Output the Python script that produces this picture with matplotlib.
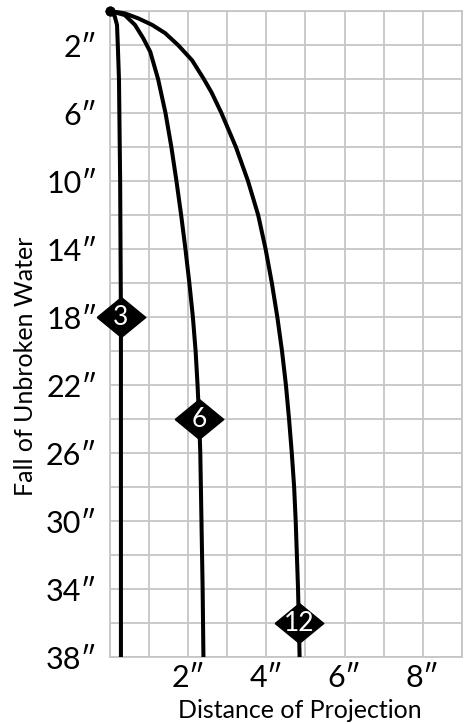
import matplotlib
matplotlib.use('Agg')
import matplotlib.pyplot as plt

# --- Data ---
# fall of unbroken water (inches) and distance of projection (inches) per nozzle
fall_3 = [0, 0.3, 0.82, 2, 4, 6, 10, 14, 18, 24, 30, 38]
dist_3 = [0, 0.12, 0.18, 0.2, 0.23, 0.24, 0.26, 0.27, 0.28, 0.28, 0.28, 0.28]

fall_6 = [0, 0.24, 0.82, 1.6, 2, 2.4, 3.6, 4, 6, 8, 10, 12, 14, 16, 18, 20, 22,
          24, 26, 30, 34, 38]
dist_6 = [0, 0.38, 0.64, 0.85, 0.94, 1.03, 1.18, 1.23, 1.42, 1.57, 1.70, 1.82,
          1.93, 2.03, 2.12, 2.19, 2.24, 2.28, 2.31, 2.34, 2.37, 2.39]

fall_12 = [0, 0.14, 0.43, 0.82, 1.3, 2, 2.9, 4, 4.8, 6, 8, 10, 12, 14, 16, 18,
           20, 22, 24, 26, 28, 30, 34, 36, 38]
dist_12 = [0, 0.38, 0.72, 1.08, 1.41, 1.74, 2.1, 2.40, 2.60, 2.85, 3.22, 3.53,
           3.79, 3.98, 4.14, 4.28, 4.40, 4.50, 4.58, 4.65, 4.71, 4.75, 4.81,
           4.83, 4.85]

# label positions on each curve
label_names = ['3', '6', '12']
label_dist = [0.28, 2.28, 4.83]
label_fall = [18, 24, 36]

x_ticks = [2, 4, 6, 8]
y_ticks = [2, 6, 10, 14, 18, 22, 26, 30, 34, 38]

FONT = ['Lato', 'DejaVu Sans']
GRID = '#c6c6c6'

fig = plt.figure(figsize=(4.67, 7.24), dpi=100)
ax = fig.add_axes([0.2355, 0.0925, 0.7535, 0.8923])

ax.set_xlim(0, 9)
ax.set_ylim(38, 0)

# grid every inch across, every 2 inches down
ax.set_xticks(range(0, 10), minor=True)
ax.set_yticks(range(0, 39, 2), minor=True)
ax.set_xticks(x_ticks)
ax.set_xticklabels([f'{v}\u2033' for v in x_ticks], fontsize=22, family=FONT)
ax.set_yticks(y_ticks)
ax.set_yticklabels([f'{v}\u2033' for v in y_ticks], fontsize=22, family=FONT)
ax.grid(True, which='both', color=GRID, linewidth=1.3)
ax.set_axisbelow(True)
for s in ax.spines.values():
    s.set_color(GRID)
    s.set_linewidth(1.3)

ax.tick_params(which='both', length=0)
ax.tick_params(axis='y', pad=9)
ax.tick_params(axis='x', pad=5)

for d, f in [(dist_3, fall_3), (dist_6, fall_6), (dist_12, fall_12)]:
    ax.plot(d, f, color='black', linewidth=2.9, solid_capstyle='butt',
            solid_joinstyle='round', clip_on=False,
            marker='o', markersize=6, markevery=[0], zorder=3)

diamond = [(-1, 0), (0, 0.82), (1, 0), (0, -0.82), (-1, 0)]
for name, d, f in zip(label_names, label_dist, label_fall):
    ax.plot([d], [f], marker=diamond, markersize=35, color='black',
            clip_on=False, zorder=4)
    ax.text(d, f, name, color='white', fontsize=19, family=FONT,
            ha='center', va='center', zorder=5)

ax.set_xlabel('Distance of Projection', fontsize=18, family=FONT, va='center')
ax.xaxis.set_label_coords(0.54, -0.083)
ax.set_ylabel('Fall of Unbroken Water', fontsize=18, family=FONT, va='center')
ax.yaxis.set_label_coords(-0.241, 0.45)

fig.savefig('out.png', dpi=100)
